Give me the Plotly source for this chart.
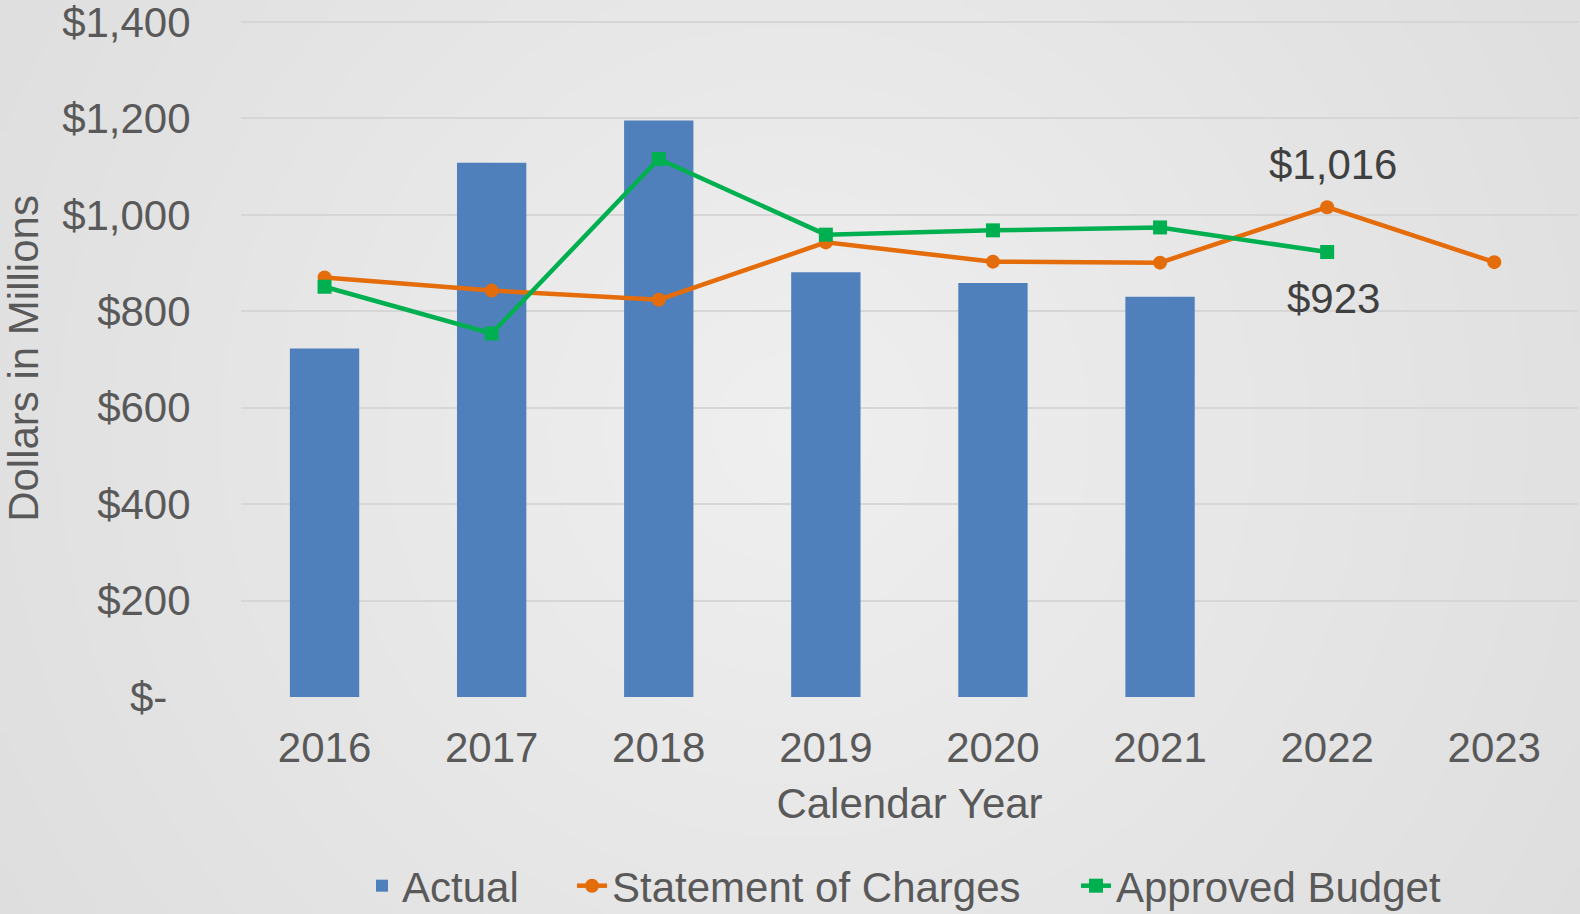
import base64
import struct
import zlib

import plotly.graph_objects as go

# ---- data ----
years = ["2016", "2017", "2018", "2019", "2020", "2021", "2022", "2023"]
actual = [723, 1108, 1196, 881, 859, 830, None, None]
statement_of_charges = [870, 843, 824, 943, 903, 901, 1016, 902]
approved_budget = [851, 754, 1116, 959, 968, 974, 923, None]
y_tick_values = [0, 200, 400, 600, 800, 1000, 1200, 1400]
y_tick_labels = ["$-\u00a0\u00a0", "$200", "$400", "$600", "$800", "$1,000", "$1,200", "$1,400"]
label_year = "2022"
label_soc = "$1,016"
label_budget = "$923"


# ---- radial gradient background (style only) ----
def radial_png(w, h, inner, outer):
    rows = []
    cx, cy = w / 2.0, h * 0.47
    maxd = ((w / 2.0) ** 2 + (h * 0.53) ** 2) ** 0.5
    for j in range(h):
        row = bytearray([0])
        for i in range(w):
            d = ((i - cx) ** 2 + (j - cy) ** 2) ** 0.5 / maxd
            v = int(round(inner + (outer - inner) * min(d, 1.0)))
            row.append(v)
        rows.append(bytes(row))
    raw = b"".join(rows)

    def chunk(tag, data):
        c = struct.pack(">I", len(data)) + tag + data
        return c + struct.pack(">I", zlib.crc32(tag + data) & 0xFFFFFFFF)

    png = b"\x89PNG\r\n\x1a\n"
    png += chunk(b"IHDR", struct.pack(">IIBBBBB", w, h, 8, 0, 0, 0, 0))
    png += chunk(b"IDAT", zlib.compress(raw, 9))
    png += chunk(b"IEND", b"")
    return "data:image/png;base64," + base64.b64encode(png).decode()


bg = radial_png(316, 183, 0xEF, 0xDE)

FONT = "Liberation Sans, Arial, sans-serif"
TICK_COLOR = "#595959"
FIG_W, FIG_H = 1580, 914
M_T, M_B, M_L, M_R = 20, 217, 241, 2
PLOT_H = FIG_H - M_T - M_B
PLOT_W = FIG_W - M_L - M_R
X_MAX = -0.5 + PLOT_W / 167.1
Y_MAX = PLOT_H / 0.4821

fig = go.Figure()
fig.add_trace(go.Bar(
    x=years, y=actual, name="Actual",
    marker=dict(color="#4f80bc", line=dict(width=0)),
    width=0.415, legend="legend",
))
fig.add_trace(go.Scatter(
    x=years, y=statement_of_charges, name="Statement of Charges",
    mode="lines+markers",
    line=dict(color="#e46c0a", width=4.5),
    marker=dict(symbol="circle", size=14, color="#e46c0a"),
    legend="legend2",
))
fig.add_trace(go.Scatter(
    x=years, y=approved_budget, name="Approved Budget",
    mode="lines+markers",
    line=dict(color="#00b050", width=4.5),
    marker=dict(symbol="square", size=14, color="#00b050"),
    legend="legend3",
))

xi = years.index(label_year)
fig.add_annotation(x=xi, y=statement_of_charges[xi], text=label_soc, showarrow=False,
                   xshift=6, yshift=43, font=dict(size=42, color="#404040", family=FONT))
fig.add_annotation(x=xi, y=approved_budget[xi], text=label_budget, showarrow=False,
                   xshift=6, yshift=-46, font=dict(size=42, color="#404040", family=FONT))

legend_common = dict(
    orientation="h", xanchor="left", y=-0.279, yanchor="middle",
    font=dict(size=42, color=TICK_COLOR, family=FONT),
    bgcolor="rgba(0,0,0,0)", borderwidth=0,
)

fig.update_layout(
    width=FIG_W, height=FIG_H, autosize=False,
    margin=dict(l=M_L, r=M_R, t=M_T, b=M_B, pad=0, autoexpand=False),
    paper_bgcolor="#e6e6e6",
    plot_bgcolor="rgba(0,0,0,0)",
    font=dict(family=FONT, size=42, color=TICK_COLOR),
    hovermode=False,
    showlegend=True,
    legend=dict(x=(362 - M_L) / PLOT_W, **legend_common),
    legend2=dict(x=(572 - M_L) / PLOT_W, **legend_common),
    legend3=dict(x=(1076 - M_L) / PLOT_W, **legend_common),
    images=[dict(source=bg, xref="paper", yref="paper",
                 x=-M_L / PLOT_W, y=1 + M_T / PLOT_H,
                 sizex=FIG_W / PLOT_W, sizey=FIG_H / PLOT_H, sizing="stretch",
                 xanchor="left", yanchor="top", layer="below")],
    xaxis=dict(
        type="category", categoryorder="array", categoryarray=years,
        range=[-0.5, X_MAX], automargin=False,
        showgrid=False, zeroline=False, showline=False,
        ticks="outside", ticklen=14, tickcolor="rgba(0,0,0,0)",
        tickfont=dict(size=42, color=TICK_COLOR),
        title=dict(text="Calendar Year", font=dict(size=42, color=TICK_COLOR), standoff=18),
    ),
    yaxis=dict(
        range=[0, Y_MAX], automargin=False,
        tickvals=y_tick_values, ticktext=y_tick_labels,
        ticklabeloverflow="allow",
        showgrid=True, gridcolor="#d6d6d6", gridwidth=2,
        zeroline=False, showline=False,
        ticks="outside", ticklen=41, tickcolor="rgba(0,0,0,0)",
        tickfont=dict(size=42, color=TICK_COLOR),
        title=dict(text="Dollars in Millions", font=dict(size=42, color=TICK_COLOR), standoff=35),
    ),
)

fig.write_html(
    "out.html",
    config={"displayModeBar": False, "responsive": False},
    post_script=(
        "document.documentElement.style.overflow='hidden';"
        "document.body.style.margin='0';document.body.style.overflow='hidden';"
        "document.body.style.background='#e0e0e0';"
    ),
)
